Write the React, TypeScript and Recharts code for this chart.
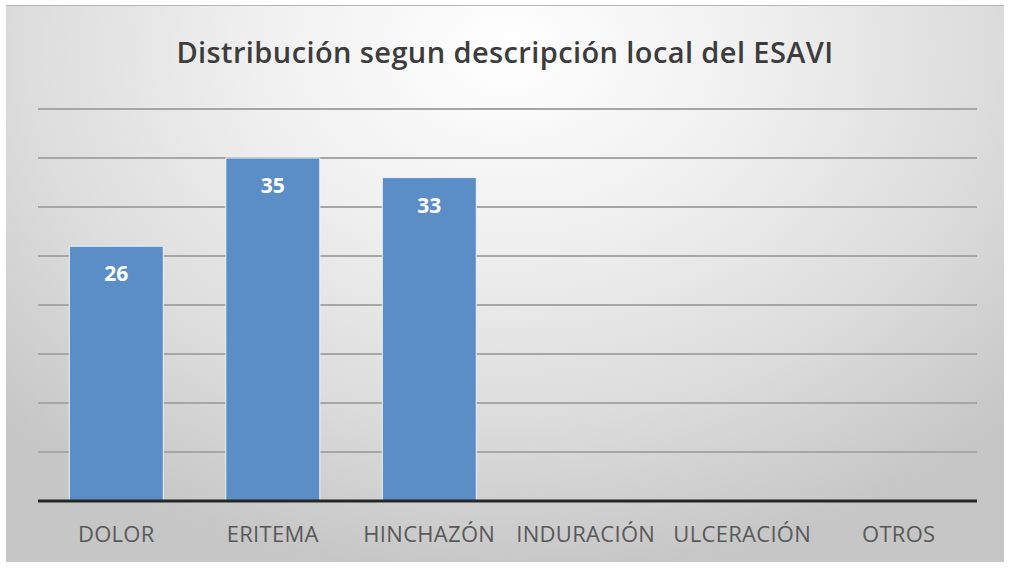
import { BarChart, Bar, XAxis, YAxis, CartesianGrid, LabelList } from 'recharts';

const categories = ['DOLOR', 'ERITEMA', 'HINCHAZÓN', 'INDURACIÓN', 'ULCERACIÓN', 'OTROS'];
const casos = [26, 35, 33, 0, 0, 0];
const yTicks = [0, 5, 10, 15, 20, 25, 30, 35, 40];

const data = categories.map((name, i) => ({ name, casos: casos[i] }));

function CategoryTick(props: any) {
  const { x, y, payload } = props;
  return (
    <text
      x={x}
      y={y + 33}
      textAnchor="middle"
      fill="#595959"
      fontSize={22}
      fontFamily="'Open Sans', sans-serif"
      style={{ letterSpacing: 0.3 }}
    >
      {payload.value}
    </text>
  );
}

export default function App() {
  return (
    <div
      style={{
        position: 'absolute',
        left: 6,
        top: 5,
        width: 998,
        height: 556,
        background: 'radial-gradient(ellipse 70% 95% at 50% 8%, #ffffff 0%, #f0f0f0 35%, #dcdcdc 70%, #c6c6c6 100%)',
        borderTop: '1px solid #b5b5b5',
        fontFamily: "'Open Sans', sans-serif",
      }}
    >
      <div
        style={{
          position: 'absolute',
          top: 26,
          left: 0,
          width: 998,
          textAlign: 'center',
          fontSize: 29,
          fontWeight: 600,
          color: '#3c3c3c',
          letterSpacing: 0.4,
        }}
      >
        Distribución segun descripción local del ESAVI
      </div>
      <BarChart
        width={998}
        height={556}
        data={data}
        barCategoryGap="20%"
        margin={{ top: 103, right: 27, left: 32, bottom: 21 }}
      >
        <CartesianGrid vertical={false} stroke="#a6a6a6" strokeWidth={2} />
        <XAxis
          dataKey="name"
          height={40}
          tickLine={false}
          axisLine={{ stroke: '#262626', strokeWidth: 3 }}
          tick={<CategoryTick />}
          interval={0}
        />
        <YAxis hide domain={[0, 40]} ticks={yTicks} />
        <Bar dataKey="casos" fill="#5b8ec6" stroke="#eef3f9" strokeWidth={1} isAnimationActive={false}>
          <LabelList
            dataKey="casos"
            position="insideTop"
            offset={20}
            fill="#ffffff"
            fontSize={21}
            fontWeight="bold"
            fontFamily="'Open Sans', sans-serif"
            formatter={(v: any) => (v ? v : '')}
          />
        </Bar>
      </BarChart>
    </div>
  );
}
